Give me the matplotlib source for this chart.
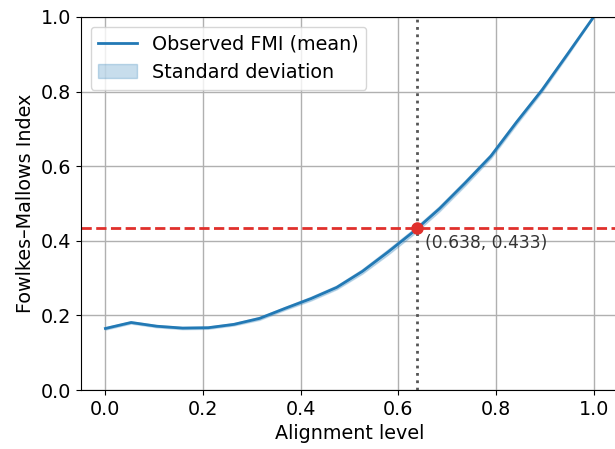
import matplotlib
matplotlib.use("Agg")
import matplotlib.pyplot as plt
import numpy as np

# alignment levels (20 steps) and mean / std of the FMI
alignment = [0.0, 0.0526, 0.1053, 0.1579, 0.2105, 0.2632, 0.3158, 0.3684, 0.4211, 0.4737,
             0.5263, 0.5789, 0.6316, 0.6842, 0.7368, 0.7895, 0.8421, 0.8947, 0.9474, 1.0]
fmi_mean = [0.165, 0.181, 0.171, 0.166, 0.167, 0.176, 0.192, 0.219, 0.245, 0.275,
            0.318, 0.370, 0.425, 0.486, 0.555, 0.627, 0.718, 0.805, 0.902, 1.0]
fmi_std = [0.003, 0.003, 0.003, 0.003, 0.003, 0.003, 0.004, 0.004, 0.005, 0.005,
           0.006, 0.007, 0.007, 0.007, 0.007, 0.006, 0.006, 0.005, 0.004, 0.0]

thr_x = 0.638
thr_y = 0.433

mean = np.array(fmi_mean)
std = np.array(fmi_std)

fig = plt.figure(figsize=(6.15, 4.49), dpi=100)
ax = fig.add_axes([81 / 615, 1 - 390 / 449, (618 - 81) / 615, (390 - 17) / 449])

ax.plot(alignment, mean, color="#2279b5", lw=2, label="Observed FMI (mean)")
ax.fill_between(alignment, mean - std, mean + std, color="#2279b5", alpha=0.25, label="Standard deviation")

ax.axhline(thr_y, color="#e0302c", ls="--", lw=2)
ax.axvline(thr_x, color="#555555", ls=":", lw=2)
ax.plot(thr_x, thr_y, "o", color="#e0302c", ms=8, zorder=5)
ax.annotate(f"({thr_x:.3f}, {thr_y:.3f})", (thr_x, thr_y), xytext=(6, -4),
            textcoords="offset points", va="top", ha="left", fontsize=12.3, color="#333333")

ax.set_xlim(-0.05, 1.05)
ax.set_ylim(0, 1)
ax.set_xlabel("Alignment level", fontsize=13.8)
ax.set_ylabel("Fowlkes–Mallows Index", fontsize=13.8)
ax.tick_params(labelsize=13.8)
ax.grid(True, color="#b0b0b0", lw=1)
ax.set_axisbelow(True)
ax.legend(loc="upper left", fontsize=13.8)

fig.savefig("out.png", dpi=100)
